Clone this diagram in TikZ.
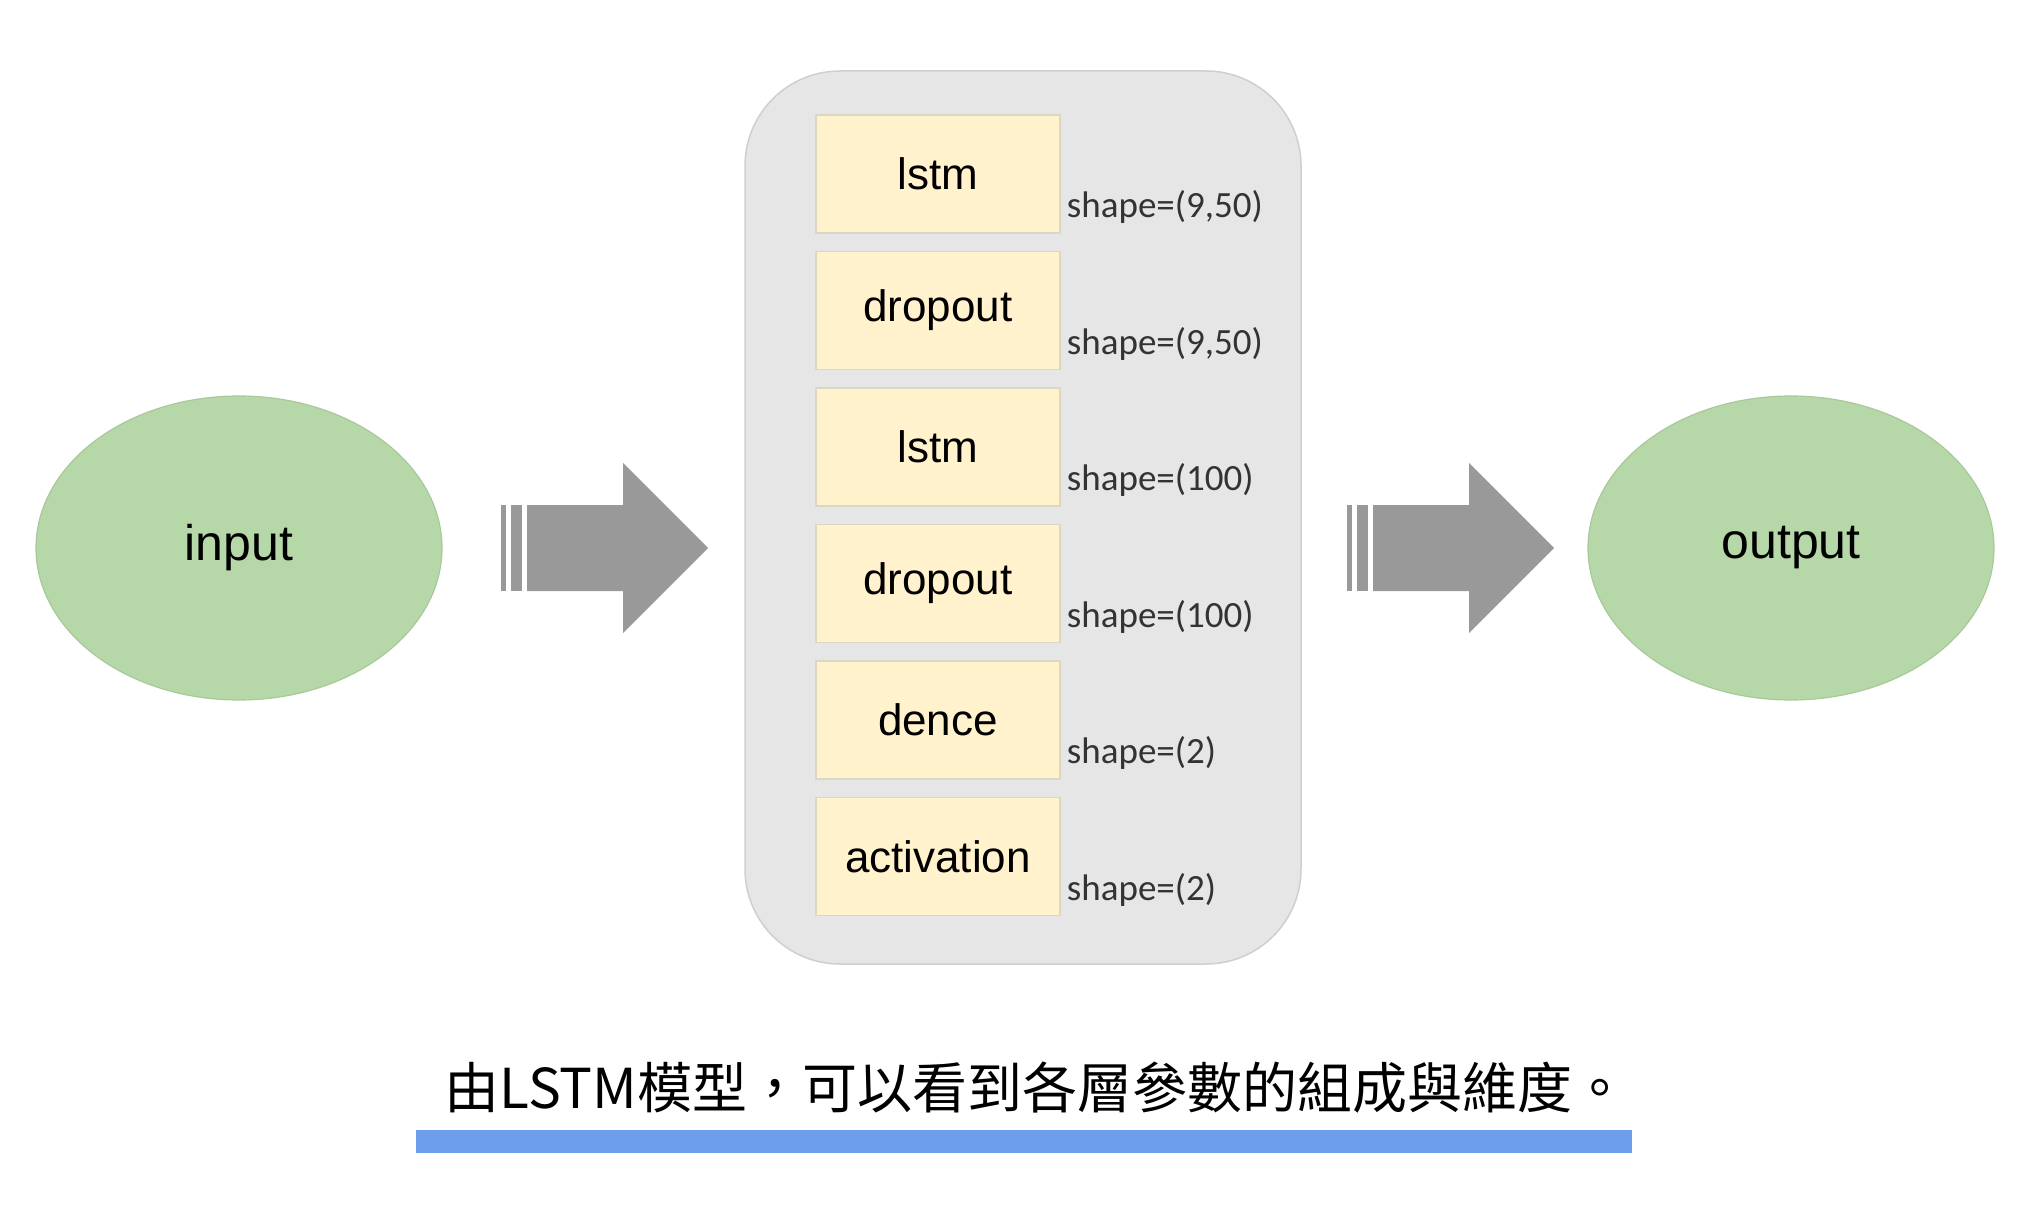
\documentclass[tikz,border=0pt]{standalone}
\usepackage{fontspec}
\setmainfont{Liberation Sans}
\newfontfamily\calibri{Carlito}
\newfontfamily\cjk{Noto Sans CJK TC}
\usetikzlibrary{positioning,shapes.geometric}
\definecolor{leafgreen}{HTML}{B6D7A8}
\definecolor{leafedge}{HTML}{A9C99B}
\definecolor{panelgray}{HTML}{E6E6E6}
\definecolor{paneledge}{HTML}{CFCFCF}
\definecolor{cream}{HTML}{FFF2CC}
\definecolor{creamedge}{HTML}{DCD6C4}
\definecolor{arrowgray}{HTML}{999999}
\definecolor{barblue}{HTML}{6D9EEB}
\tikzset{
  fatarrow/.pic={
    \fill[arrowgray] (0,-43) rectangle (5,43);
    \fill[arrowgray] (10,-43) rectangle (21,43);
    \fill[arrowgray] (26,-43) -- (122,-43) -- (122,-85) -- (207,0)
      -- (122,85) -- (122,43) -- (26,43) -- cycle;
  }
}

\begin{document}
\begin{tikzpicture}[x=1pt, y=-1pt,
    io/.style={ellipse, fill=leafgreen, draw=leafedge, line width=1.2pt,
      minimum width=406, minimum height=304,
      font=\fontsize{50}{60}\selectfont},
    panel/.style={rounded corners=95, fill=panelgray, draw=paneledge,
      line width=1.5pt, minimum width=556, minimum height=893},
    layer/.style={rectangle, fill=cream, draw=creamedge, line width=1.5pt,
      minimum width=244, minimum height=118, inner sep=0,
      font=\fontsize{44}{52}\selectfont},
    dims/.style={anchor=base west, inner sep=0, text=black!80,
      font=\calibri\fontsize{37}{44}\selectfont},
    node distance=17pt and 6pt]
	\useasboundingbox (0,0) rectangle (2034,1230);

	\node[io] (input) at (239,548) {\raisebox{-5pt}{input}};
	\node[io] (output) at (1791,548) {\raisebox{-5pt}{output}};
	\node[panel] (model) at (1023,517.5) {};

	\node[layer] (lstmA) at (938,174) {lstm};
	\node[layer, below=of lstmA] (dropA) {dropout};
	\node[layer, below=of dropA] (lstmB) {lstm};
	\node[layer, below=of lstmB] (dropB) {dropout};
	\node[layer, below=of dropB] (dence) {dence};
	\node[layer, below=of dence] (act) {activation};

	\foreach \n/\s in {lstmA/{(9,50)}, dropA/{(9,50)}, lstmB/{(100)},
	                   dropB/{(100)}, dence/{(2)}, act/{(2)}}
		\node[dims] (\n-dim) at ([xshift=6pt, yshift=16pt]\n.south east) {shape=\s};

	\pic at (501,548) {fatarrow};
	\pic at (1347,548) {fatarrow};

	\node[font=\cjk\fontsize{55}{66}\selectfont] (caption) at (1036,1088)
		{由LSTM模型，可以看到各層參數的組成與維度。};
	\fill[barblue] (416,1130) rectangle (1632,1153);
\end{tikzpicture}
\end{document}
